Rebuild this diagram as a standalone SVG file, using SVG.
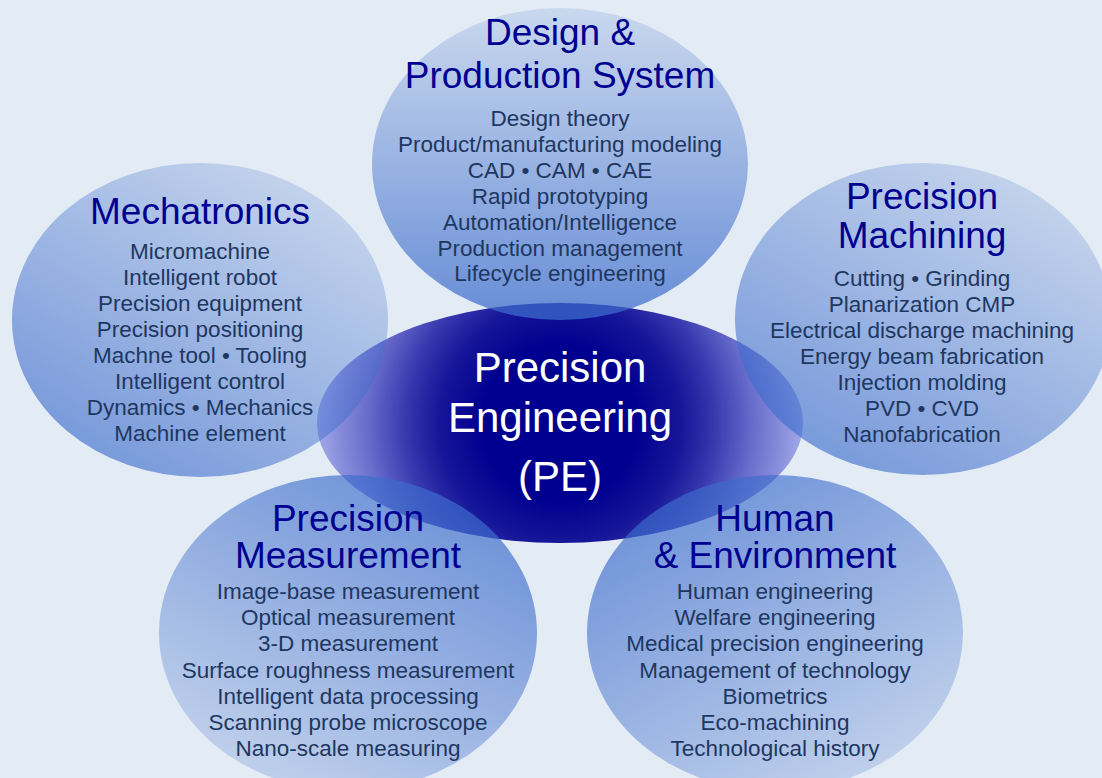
<svg xmlns="http://www.w3.org/2000/svg" width="1102" height="778" viewBox="0 0 1102 778">
<style>
  .title { font-family: "Liberation Sans", Arial, sans-serif; font-size: 37px; fill: #000090; text-anchor: middle; }
  .body { font-family: "Liberation Sans", Arial, sans-serif; font-size: 22.5px; fill: #1e3760; text-anchor: middle; }
  .center { font-family: "Liberation Sans", Arial, sans-serif; font-size: 42px; fill: #ffffff; text-anchor: middle; }
</style>
<defs>
  <linearGradient id="gDown" x1="0" y1="0" x2="0" y2="1">
    <stop offset="0" stop-color="#3c6ccc" stop-opacity="0.15"/>
    <stop offset="1" stop-color="#3c6ccc" stop-opacity="0.74"/>
  </linearGradient>
  <linearGradient id="gDownLeft" x1="0.85" y1="0" x2="0.15" y2="1">
    <stop offset="0" stop-color="#3c6ccc" stop-opacity="0.15"/>
    <stop offset="1" stop-color="#3c6ccc" stop-opacity="0.68"/>
  </linearGradient>
  <linearGradient id="gUpRight" x1="0.15" y1="1" x2="0.75" y2="0">
    <stop offset="0" stop-color="#3c6ccc" stop-opacity="0.17"/>
    <stop offset="1" stop-color="#3c6ccc" stop-opacity="0.72"/>
  </linearGradient>
  <linearGradient id="gUpLeft" x1="0.85" y1="1" x2="0.2" y2="0">
    <stop offset="0" stop-color="#3c6ccc" stop-opacity="0.17"/>
    <stop offset="1" stop-color="#3c6ccc" stop-opacity="0.72"/>
  </linearGradient>
  <radialGradient id="gCenter" gradientUnits="userSpaceOnUse" cx="560" cy="423" r="243">
    <stop offset="0" stop-color="#000090"/>
    <stop offset="0.32" stop-color="#000090"/>
    <stop offset="0.5" stop-color="#161699"/>
    <stop offset="0.63" stop-color="#3636ae"/>
    <stop offset="0.8" stop-color="#6a6ecc"/>
    <stop offset="0.92" stop-color="#8a90dc"/>
    <stop offset="1" stop-color="#a2aae8"/>
  </radialGradient>
</defs>
<rect x="0" y="0" width="1102" height="778" fill="#e3ebf4"/>

<g id="node-pe">
  <ellipse cx="560" cy="423" rx="243" ry="120" fill="url(#gCenter)"/>
  <text class="center" x="560" y="382">Precision</text>
  <text class="center" x="560" y="432">Engineering</text>
  <text class="center" x="560" y="491">(PE)</text>
</g>

<g id="node-design">
  <ellipse cx="560" cy="164" rx="188" ry="156" fill="url(#gDown)"/>
  <text class="title" x="560" y="45">Design &amp;</text>
  <text class="title" x="560" y="88">Production System</text>
  <text class="body" x="560" y="126">Design theory</text>
  <text class="body" x="560" y="152">Product/manufacturing modeling</text>
  <text class="body" x="560" y="177.5">CAD • CAM • CAE</text>
  <text class="body" x="560" y="203.5">Rapid prototyping</text>
  <text class="body" x="560" y="229.5">Automation/Intelligence</text>
  <text class="body" x="560" y="255.5">Production management</text>
  <text class="body" x="560" y="281">Lifecycle engineering</text>
</g>

<g id="node-mechatronics">
  <ellipse cx="200" cy="320" rx="188" ry="157" fill="url(#gDownLeft)"/>
  <text class="title" x="200" y="224">Mechatronics</text>
  <text class="body" x="200" y="259">Micromachine</text>
  <text class="body" x="200" y="285">Intelligent robot</text>
  <text class="body" x="200" y="311">Precision equipment</text>
  <text class="body" x="200" y="337">Precision positioning</text>
  <text class="body" x="200" y="363">Machne tool • Tooling</text>
  <text class="body" x="200" y="389">Intelligent control</text>
  <text class="body" x="200" y="415">Dynamics • Mechanics</text>
  <text class="body" x="200" y="441">Machine element</text>
</g>

<g id="node-machining">
  <ellipse cx="923" cy="319" rx="188" ry="156" fill="url(#gDownLeft)"/>
  <text class="title" x="922" y="209">Precision</text>
  <text class="title" x="922" y="248">Machining</text>
  <text class="body" x="922" y="286">Cutting • Grinding</text>
  <text class="body" x="922" y="312">Planarization CMP</text>
  <text class="body" x="922" y="338">Electrical discharge machining</text>
  <text class="body" x="922" y="364">Energy beam fabrication</text>
  <text class="body" x="922" y="390">Injection molding</text>
  <text class="body" x="922" y="416">PVD • CVD</text>
  <text class="body" x="922" y="442">Nanofabrication</text>
</g>

<g id="node-measurement">
  <ellipse cx="348" cy="633" rx="189" ry="158" fill="url(#gUpRight)"/>
  <text class="title" x="348" y="531">Precision</text>
  <text class="title" x="348" y="568">Measurement</text>
  <text class="body" x="348" y="599">Image-base measurement</text>
  <text class="body" x="348" y="625.2">Optical measurement</text>
  <text class="body" x="348" y="651.4">3-D measurement</text>
  <text class="body" x="348" y="677.6">Surface roughness measurement</text>
  <text class="body" x="348" y="703.8">Intelligent data processing</text>
  <text class="body" x="348" y="730">Scanning probe microscope</text>
  <text class="body" x="348" y="756.2">Nano-scale measuring</text>
</g>

<g id="node-human">
  <ellipse cx="775" cy="633" rx="188" ry="158" fill="url(#gUpLeft)"/>
  <text class="title" x="775" y="531">Human</text>
  <text class="title" x="775" y="568">&amp; Environment</text>
  <text class="body" x="775" y="599">Human engineering</text>
  <text class="body" x="775" y="625.2">Welfare engineering</text>
  <text class="body" x="775" y="651.4">Medical precision engineering</text>
  <text class="body" x="775" y="677.6">Management of technology</text>
  <text class="body" x="775" y="703.8">Biometrics</text>
  <text class="body" x="775" y="730">Eco-machining</text>
  <text class="body" x="775" y="756.2">Technological history</text>
</g>

<g id="connectors"></g>
</svg>
